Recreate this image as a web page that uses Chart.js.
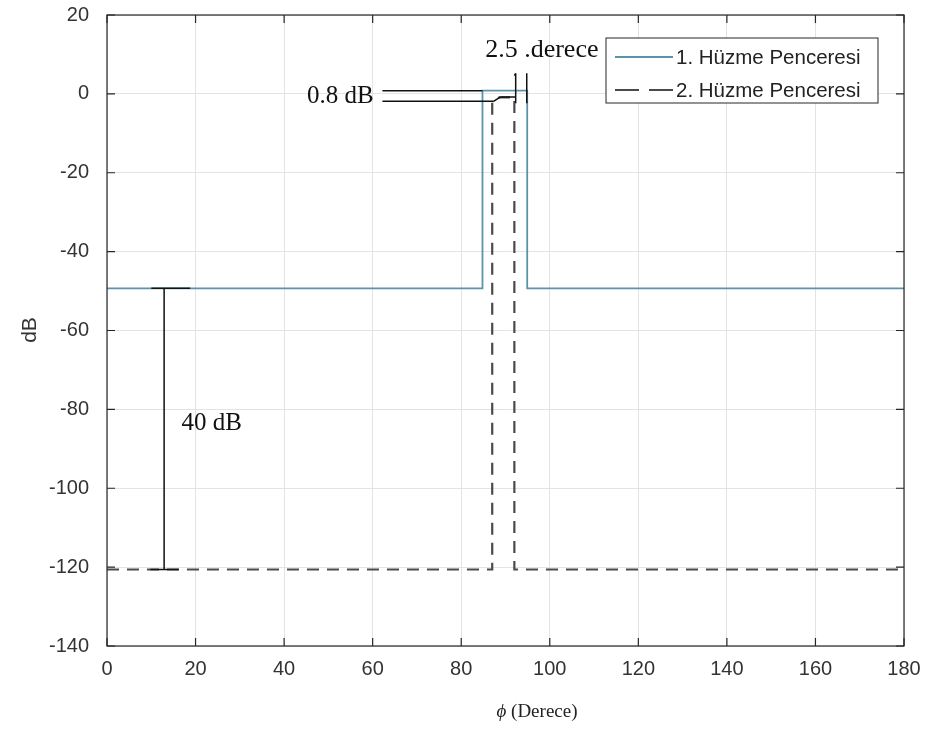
<!DOCTYPE html>
<html>
<head>
<meta charset="utf-8">
<script src="https://cdn.jsdelivr.net/npm/chart.js@4.4.1/dist/chart.umd.min.js"></script>
<style>
  html, body { margin: 0; padding: 0; background: #fff; }
  #wrap { width: 929px; height: 734px; }
</style>
</head>
<body>
<div id="wrap"><canvas id="beamChart" width="929" height="734"></canvas></div>
<script>
// values (phi in degrees, level in dB)
const beam1Phi = [0, 84.8, 84.8, 94.9, 94.9, 180];
const beam1Db = [-49.3, -49.3, 0.8, 0.8, -49.3, -49.3];
const beam2Phi = [0, 87, 87, 88.6, 92, 92, 180];
const beam2Db = [-120.6, -120.6, -2, -0.9, -0.9, -120.6, -120.6];
const seriesNames = ["1. Hüzme Penceresi", "2. Hüzme Penceresi"];
const xTicks = [0, 20, 40, 60, 80, 100, 120, 140, 160, 180];
const yTicks = [20, 0, -20, -40, -60, -80, -100, -120, -140];

const toPoints = (xs, ys) => xs.map((x, i) => ({ x: x, y: ys[i] }));

const SOLID = '#5a93aa';
const DASH = '#4a4a4a';
const serif = '"Liberation Serif", "DejaVu Serif", serif';
const sans = '"Liberation Sans", Arial, sans-serif';

// axes box, inward ticks, annotations, titles and legend, matlab style
const decor = {
  id: 'decor',
  afterDatasetsDraw(chart) {
    const { ctx, chartArea: a, scales: { x, y } } = chart;
    ctx.save();

    // box
    ctx.strokeStyle = '#262626';
    ctx.lineWidth = 1.2;
    ctx.strokeRect(a.left, a.top, a.right - a.left, a.bottom - a.top);
    ctx.beginPath();
    xTicks.forEach(v => {
      const px = x.getPixelForValue(v);
      ctx.moveTo(px, a.bottom); ctx.lineTo(px, a.bottom - 8);
      ctx.moveTo(px, a.top); ctx.lineTo(px, a.top + 8);
    });
    yTicks.forEach(v => {
      const py = y.getPixelForValue(v);
      ctx.moveTo(a.left, py); ctx.lineTo(a.left + 8, py);
      ctx.moveTo(a.right, py); ctx.lineTo(a.right - 8, py);
    });
    ctx.stroke();

    // annotation lines
    const P = (vx, vy) => [x.getPixelForValue(vx), y.getPixelForValue(vy)];
    const seg = (x1, y1, x2, y2) => {
      const p1 = P(x1, y1), p2 = P(x2, y2);
      ctx.moveTo(p1[0], p1[1]); ctx.lineTo(p2[0], p2[1]);
    };
    ctx.strokeStyle = '#111';
    ctx.lineWidth = 1.5;
    ctx.beginPath();
    // 40 dB bracket
    seg(12.9, -49.3, 12.9, -120.6);
    seg(10.0, -49.3, 18.8, -49.3);
    seg(9.8, -120.6, 16.2, -120.6);
    // 0.8 dB leaders
    seg(62.2, 0.8, 84.8, 0.8);
    seg(62.2, -1.9, 87.3, -1.9);
    seg(87.3, -1.9, 88.8, -0.8);
    seg(88.8, -0.8, 92.2, -0.8);
    // 2.5 derece markers
    seg(92.3, 5.2, 92.3, -2.4);
    seg(92.3, 5.2, 92.0, 4.6);
    seg(94.8, 5.2, 94.8, -2.4);
    ctx.stroke();

    ctx.fillStyle = '#111';
    ctx.textBaseline = 'middle';
    ctx.font = '26px ' + serif;
    ctx.textAlign = 'center';
    let p = P(98.2, 11.0);
    ctx.fillText('2.5 .derece', p[0], p[1]);
    ctx.font = '25px ' + serif;
    ctx.textAlign = 'right';
    p = P(60.2, -0.6);
    ctx.fillText('0.8 dB', p[0], p[1]);
    ctx.textAlign = 'left';
    p = P(16.8, -83.6);
    ctx.fillText('40 dB', p[0], p[1]);

    // axis titles
    ctx.fillStyle = '#222';
    ctx.textAlign = 'center';
    ctx.font = 'italic 19px ' + serif;
    const phiW = ctx.measureText('ϕ ').width;
    ctx.font = '19px ' + serif;
    const restW = ctx.measureText('(Derece)').width;
    const tx = 537 - (phiW + restW) / 2;
    ctx.textAlign = 'left';
    ctx.font = 'italic 19px ' + serif;
    ctx.fillText('ϕ ', tx, 712);
    ctx.font = '19px ' + serif;
    ctx.fillText('(Derece)', tx + phiW, 712);

    ctx.save();
    ctx.translate(30, 330);
    ctx.rotate(-Math.PI / 2);
    ctx.textAlign = 'center';
    ctx.fillStyle = '#333';
    ctx.font = '21px ' + sans;
    ctx.fillText('dB', 0, 0);
    ctx.restore();

    // legend
    const lx = 606, ly = 38, lw = 272, lh = 65;
    ctx.fillStyle = '#fff';
    ctx.fillRect(lx, ly, lw, lh);
    ctx.strokeStyle = '#262626';
    ctx.lineWidth = 1;
    ctx.strokeRect(lx, ly, lw, lh);
    ctx.font = '20.5px ' + sans;
    ctx.textAlign = 'left';
    ctx.fillStyle = '#222';
    const rows = [ly + 19, ly + 52];
    ctx.lineWidth = 1.8;
    ctx.strokeStyle = SOLID;
    ctx.beginPath(); ctx.moveTo(615, rows[0]); ctx.lineTo(673, rows[0]); ctx.stroke();
    ctx.strokeStyle = DASH;
    ctx.setLineDash([24, 10]);
    ctx.beginPath(); ctx.moveTo(615, rows[1]); ctx.lineTo(673, rows[1]); ctx.stroke();
    ctx.setLineDash([]);
    ctx.fillText(seriesNames[0], 676, rows[0] + 1);
    ctx.fillText(seriesNames[1], 676, rows[1] + 1);

    ctx.restore();
  }
};

const ctx = document.getElementById('beamChart').getContext('2d');
new Chart(ctx, {
  type: 'line',
  data: {
    datasets: [
      {
        label: seriesNames[0],
        data: toPoints(beam1Phi, beam1Db),
        borderColor: SOLID,
        borderWidth: 1.8,
        pointRadius: 0,
        tension: 0,
        fill: false
      },
      {
        label: seriesNames[1],
        data: toPoints(beam2Phi, beam2Db),
        borderColor: DASH,
        borderWidth: 2.2,
        borderDash: [12, 8],
        pointRadius: 0,
        tension: 0,
        fill: false
      }
    ]
  },
  options: {
    responsive: false,
    animation: false,
    layout: { padding: { top: 15, right: 25, left: 0, bottom: 0 } },
    plugins: { legend: { display: false }, tooltip: { enabled: false } },
    scales: {
      x: {
        type: 'linear',
        min: 0, max: 180,
        afterBuildTicks: s => { s.ticks = xTicks.map(v => ({ value: v })); },
        afterFit: s => { s.height = 88; s.paddingLeft = 0; s.paddingRight = 0; },
        grid: { color: '#e3e3e3', drawTicks: false, lineWidth: 1 },
        border: { display: false },
        ticks: { color: '#333', font: { size: 20, family: sans }, padding: 11, maxRotation: 0 },
        title: { display: false }
      },
      y: {
        min: -140, max: 20,
        afterBuildTicks: s => { s.ticks = yTicks.map(v => ({ value: v })); },
        afterFit: s => { s.width = 107; s.paddingTop = 0; s.paddingBottom = 0; },
        grid: { color: '#e3e3e3', drawTicks: false, lineWidth: 1 },
        border: { display: false },
        ticks: { color: '#333', font: { size: 20, family: sans }, padding: 18 },
        title: { display: false }
      }
    }
  },
  plugins: [decor]
});
</script>
</body>
</html>
